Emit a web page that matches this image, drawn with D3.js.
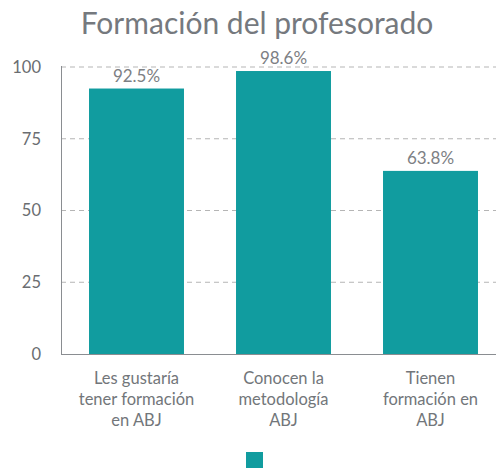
<!DOCTYPE html>
<html>
<head>
<meta charset="utf-8">
<script src="https://cdnjs.cloudflare.com/ajax/libs/d3/7.8.5/d3.min.js"></script>
<style>
  body { margin: 0; background: #fff; }
  text { font-family: Lato, "Open Sans", sans-serif; }
</style>
</head>
<body>
<div id="chart"></div>
<script>
var svgWidth = 496;
var svgHeight = 468;

// data
var categories = ["Les gustaría tener formación en ABJ", "Conocen la metodología ABJ", "Tienen formación en ABJ"];
var categoryLines = [
  ["Les gustaría", "tener formación", "en ABJ"],
  ["Conocen la", "metodología", "ABJ"],
  ["Tienen", "formación en", "ABJ"]
];
var values = [92.5, 98.6, 63.8];
var yTicks = [0, 25, 50, 75, 100];

var teal = "#119c9f";

var svg = d3.select("#chart").append("svg")
  .attr("width", svgWidth)
  .attr("height", svgHeight);

var xScale = d3.scaleBand()
  .domain(categories)
  .range([63, 504])
  .paddingInner(0.354)
  .paddingOuter(0.177);

var yScale = d3.scaleLinear()
  .domain([0, 100])
  .range([354, 67]);

// title
svg.append("text")
  .attr("x", 257)
  .attr("y", 34)
  .attr("text-anchor", "middle")
  .style("font-size", "30px")
  .style("fill", "#75797e")
  .text("Formación del profesorado");

// gridlines
svg.append("g")
  .selectAll("line")
  .data(yTicks.filter(function(d) { return d > 0; }))
  .enter()
  .append("line")
  .attr("x1", 61)
  .attr("x2", svgWidth)
  .attr("y1", function(d) { return yScale(d); })
  .attr("y2", function(d) { return yScale(d); })
  .attr("stroke", "#b5b5b5")
  .attr("stroke-dasharray", "5,4")
  .attr("stroke-width", 1);

// y axis tick labels
var yAxis = d3.axisLeft(yScale).tickValues(yTicks).tickSize(0).tickPadding(20);
var yAxisG = svg.append("g")
  .attr("transform", "translate(61,0)")
  .call(yAxis);
yAxisG.select(".domain").remove();
yAxisG.selectAll("text")
  .style("font-size", "16.5px")
  .style("fill", "#6a6d71")
  .style("font-family", "Lato, sans-serif");

// bars
svg.append("g")
  .selectAll("rect")
  .data(values)
  .enter()
  .append("rect")
  .attr("x", function(d, i) { return xScale(categories[i]); })
  .attr("y", function(d) { return yScale(d); })
  .attr("width", xScale.bandwidth())
  .attr("height", function(d) { return yScale(0) - yScale(d); })
  .attr("fill", teal);

// value labels
svg.append("g")
  .selectAll("text")
  .data(values)
  .enter()
  .append("text")
  .attr("x", function(d, i) { return xScale(categories[i]) + xScale.bandwidth() / 2; })
  .attr("y", function(d) { return yScale(d) - 7; })
  .attr("text-anchor", "middle")
  .style("font-size", "17px")
  .style("fill", "#7d8084")
  .text(function(d) { return d.toFixed(1) + "%"; });

// axis lines
svg.append("line")
  .attr("x1", 61.5).attr("x2", 61.5)
  .attr("y1", 66).attr("y2", yScale(0) + 0.5)
  .attr("stroke", "#8a8d91").attr("stroke-width", 1);
svg.append("line")
  .attr("x1", 61).attr("x2", svgWidth)
  .attr("y1", yScale(0) + 0.5).attr("y2", yScale(0) + 0.5)
  .attr("stroke", "#8a8d91").attr("stroke-width", 1);

// category labels
var catG = svg.append("g")
  .selectAll("text")
  .data(categories)
  .enter()
  .append("text")
  .attr("text-anchor", "middle")
  .style("font-size", "16.5px")
  .style("fill", "#72767a");

catG.selectAll("tspan")
  .data(function(d, i) {
    return categoryLines[i].map(function(l) { return { line: l, cat: d }; });
  })
  .enter()
  .append("tspan")
  .attr("x", function(d) { return xScale(d.cat) + xScale.bandwidth() / 2; })
  .attr("y", function(d, j) { return 384 + j * 21; })
  .text(function(d) { return d.line; });

// legend swatch
svg.append("rect")
  .attr("x", 246)
  .attr("y", 452)
  .attr("width", 17)
  .attr("height", 17)
  .attr("fill", teal);
</script>
</body>
</html>
